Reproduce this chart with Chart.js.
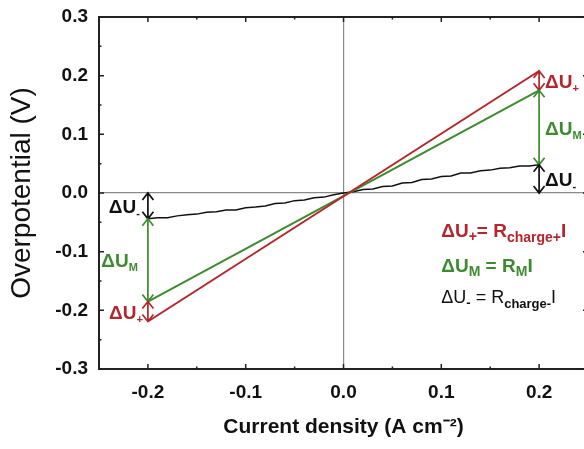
<!DOCTYPE html>
<html>
<head>
<meta charset="utf-8">
<script src="https://cdn.jsdelivr.net/npm/chart.js@4.4.0/dist/chart.umd.min.js"></script>
<style>
  html, body { margin: 0; padding: 0; background: #fff; overflow: hidden; }
  #wrap { width: 600px; height: 449px; }
</style>
</head>
<body>
<div id="wrap"><canvas id="chart" width="600" height="449"></canvas></div>
<script>
// axis ticks
const xTicks = [-0.2, -0.1, 0, 0.1, 0.2];
const xMinorTicks = [-0.25, -0.15, -0.05, 0.05, 0.15, 0.25];
const yTicks = [-0.3, -0.2, -0.1, 0, 0.1, 0.2, 0.3];
const yMinorTicks = [-0.25, -0.15, -0.05, 0.05, 0.15, 0.25];

// straight fits, end points at -0.2 and 0.2 A/cm2
const fitCurrent = [-0.2, 0.2];
const totalOverpotential = [-0.219, 0.208];    // red, dU+
const membraneOverpotential = [-0.185, 0.175]; // green, dU_M

// measured (noisy) black curve, dU-
const measuredCurrent = [
  -0.20, -0.19, -0.18, -0.17, -0.16, -0.15, -0.14, -0.13, -0.12, -0.11,
  -0.10, -0.09, -0.08, -0.07, -0.06, -0.05, -0.04, -0.03, -0.02, -0.01,
  0.00, 0.01, 0.02, 0.03, 0.04, 0.05, 0.06, 0.07, 0.08, 0.09,
  0.10, 0.11, 0.12, 0.13, 0.14, 0.15, 0.16, 0.17, 0.18, 0.19, 0.20
];
const measuredOverpotential = [
  -0.044, -0.042, -0.042, -0.039, -0.037, -0.036, -0.033, -0.032, -0.029, -0.029,
  -0.025, -0.024, -0.022, -0.018, -0.017, -0.013, -0.012, -0.008, -0.007, -0.003,
  0.000, 0.002, 0.006, 0.007, 0.011, 0.012, 0.017, 0.018, 0.023, 0.024,
  0.028, 0.029, 0.034, 0.034, 0.038, 0.039, 0.042, 0.043, 0.046, 0.046, 0.048
];

const RED = '#b3262b';
const GREEN = '#3d8b2f';
const BLACK = '#111111';
const FONT = '"Liberation Sans", Arial, sans-serif';

Chart.defaults.font.family = FONT;
Chart.defaults.color = '#111';

function pts(xs, ys) {
  return xs.map((v, i) => ({ x: v, y: ys[i] }));
}

function drawRich(ctx, x, y, parts, align) {
  let total = 0;
  parts.forEach(p => { ctx.font = p[1]; total += ctx.measureText(p[0]).width; });
  let cx = align === 'right' ? x - total : x;
  parts.forEach(p => {
    ctx.font = p[1];
    ctx.fillText(p[0], cx, y + (p[2] || 0));
    cx += ctx.measureText(p[0]).width;
  });
}

function arrow(ctx, px, p1, p2, color) {
  const h = 7, w = 5.5;
  const dir = p2 > p1 ? 1 : -1;
  ctx.strokeStyle = color;
  ctx.lineWidth = 1.7;
  ctx.beginPath();
  ctx.moveTo(px, p1); ctx.lineTo(px, p2);
  ctx.moveTo(px - w, p2 - dir * h); ctx.lineTo(px, p2); ctx.lineTo(px + w, p2 - dir * h);
  ctx.moveTo(px - w, p1 + dir * h); ctx.lineTo(px, p1); ctx.lineTo(px + w, p1 + dir * h);
  ctx.stroke();
}

const frame = {
  id: 'frame',
  afterDatasetsDraw(chart) {
    const { ctx, chartArea: a, scales: { x, y } } = chart;
    ctx.save();
    ctx.strokeStyle = '#222';
    ctx.lineWidth = 2;
    ctx.strokeRect(a.left, a.top, a.right - a.left, a.bottom - a.top);

    // inward tick marks
    ctx.lineWidth = 1.5;
    ctx.beginPath();
    const tx = (v, len) => {
      const p = x.getPixelForValue(v);
      ctx.moveTo(p, a.bottom); ctx.lineTo(p, a.bottom - len);
      ctx.moveTo(p, a.top); ctx.lineTo(p, a.top + len);
    };
    const ty = (v, len) => {
      const p = y.getPixelForValue(v);
      ctx.moveTo(a.left, p); ctx.lineTo(a.left + len, p);
      ctx.moveTo(a.right, p); ctx.lineTo(a.right - len, p);
    };
    xTicks.forEach(v => tx(v, 5));
    xMinorTicks.forEach(v => tx(v, 2.5));
    yTicks.forEach(v => ty(v, 5));
    yMinorTicks.forEach(v => ty(v, 2.5));
    ctx.stroke();

    // double arrows between the curves at the end points
    const xl = x.getPixelForValue(fitCurrent[0]);
    const xr = x.getPixelForValue(fitCurrent[1]);
    const b0 = measuredOverpotential[0];
    const b1 = measuredOverpotential[measuredOverpotential.length - 1];
    const Y = v => y.getPixelForValue(v);

    arrow(ctx, xl, Y(0), Y(b0), BLACK);
    arrow(ctx, xl, Y(b0), Y(membraneOverpotential[0]), GREEN);
    arrow(ctx, xl, Y(membraneOverpotential[0]), Y(totalOverpotential[0]), RED);
    arrow(ctx, xr, Y(totalOverpotential[1]), Y(membraneOverpotential[1]), RED);
    arrow(ctx, xr, Y(membraneOverpotential[1]), Y(b1), GREEN);
    arrow(ctx, xr, Y(b1), Y(0), BLACK);

    // arrow labels
    const big = 'bold 19px ' + FONT, sub = 'bold 11px ' + FONT;
    const mid = (u, v) => (Y(u) + Y(v)) / 2 + 7;
    ctx.textBaseline = 'alphabetic';
    ctx.fillStyle = BLACK;
    drawRich(ctx, xl - 8, mid(0, b0), [['\u0394U', big], ['-', sub, 4]], 'right');
    ctx.fillStyle = GREEN;
    drawRich(ctx, xl - 10, mid(b0, membraneOverpotential[0]), [['\u0394U', big], ['M', sub, 4]], 'right');
    ctx.fillStyle = RED;
    drawRich(ctx, xl - 5, mid(membraneOverpotential[0], totalOverpotential[0]), [['\u0394U', big], ['+', sub, 4]], 'right');
    ctx.fillStyle = RED;
    drawRich(ctx, xr + 6, mid(totalOverpotential[1], membraneOverpotential[1]), [['\u0394U', big], ['+', sub, 4]]);
    ctx.fillStyle = GREEN;
    drawRich(ctx, xr + 6, mid(membraneOverpotential[1], b1), [['\u0394U', big], ['M', sub, 4]]);
    ctx.fillStyle = BLACK;
    drawRich(ctx, xr + 6, mid(b1, 0), [['\u0394U', big], ['-', sub, 4]]);

    // equations
    const lx = x.getPixelForValue(0.1);
    const eq = 'bold 19px ' + FONT, eqSub = 'bold 14px ' + FONT;
    ctx.fillStyle = RED;
    drawRich(ctx, lx, Y(-0.063) + 7, [['\u0394U', eq], ['+', eqSub, 4], ['= R', eq], ['charge+', eqSub, 5], ['I', eq]]);
    ctx.fillStyle = GREEN;
    drawRich(ctx, lx, Y(-0.122) + 7, [['\u0394U', eq], ['M', eqSub, 4], [' = R', eq], ['M', eqSub, 4], ['I', eq]]);
    ctx.fillStyle = BLACK;
    const eqN = '18px ' + FONT, eqNSub = 'bold 13px ' + FONT;
    drawRich(ctx, lx, Y(-0.176) + 7, [['\u0394U', eqN], ['-', eqNSub, 4], [' = R', eqN], ['charge-', eqNSub, 5], ['I', eqN]]);
    ctx.restore();
  }
};

const zeroLine = c => (Math.abs(c.tick.value) < 1e-9 ? '#8a8a8a' : 'rgba(0,0,0,0)');

new Chart(document.getElementById('chart'), {
  type: 'line',
  data: {
    datasets: [
      { data: pts(fitCurrent, totalOverpotential), borderColor: RED, borderWidth: 2 },
      { data: pts(fitCurrent, membraneOverpotential), borderColor: GREEN, borderWidth: 2 },
      { data: pts(measuredCurrent, measuredOverpotential), borderColor: BLACK, borderWidth: 1.5 }
    ]
  },
  options: {
    responsive: false,
    animation: false,
    parsing: false,
    elements: { point: { radius: 0 }, line: { tension: 0 } },
    layout: { padding: { left: 0, right: 12, top: 17, bottom: 0 } },
    plugins: { legend: { display: false }, tooltip: { enabled: false } },
    scales: {
      x: {
        type: 'linear',
        min: -0.25,
        max: 0.25,
        afterBuildTicks: s => { s.ticks = xTicks.map(v => ({ value: v })); },
        afterFit: s => { s.height = 80; s.paddingLeft = 0; s.paddingRight = 0; },
        border: { display: false },
        grid: { drawTicks: false, color: zeroLine, lineWidth: 1.2 },
        ticks: {
          padding: 12,
          color: '#111',
          font: { size: 19, weight: 'bold' },
          callback: v => (Math.abs(v) < 1e-9 ? '0.0' : v.toFixed(1))
        },
        title: {
          display: true,
          text: 'Current density (A cm\u207B\u00B2)',
          color: '#111',
          font: { size: 21, weight: 'bold', lineHeight: 1.2 },
          padding: { top: 0, bottom: 9 }
        }
      },
      y: {
        type: 'linear',
        min: -0.3,
        max: 0.3,
        afterBuildTicks: s => { s.ticks = yTicks.map(v => ({ value: v })); },
        afterFit: s => { s.width = 99; s.paddingTop = 0; s.paddingBottom = 0; },
        border: { display: false },
        grid: { drawTicks: false, color: zeroLine, lineWidth: 1.2 },
        ticks: {
          padding: 11,
          color: '#111',
          font: { size: 19, weight: 'bold' },
          callback: v => (Math.abs(v) < 1e-9 ? '0.0' : v.toFixed(1))
        },
        title: {
          display: true,
          text: 'Overpotential (V)',
          color: '#111',
          font: { size: 28, weight: 'normal', lineHeight: 1.2 },
          padding: { top: 5, bottom: 0 }
        }
      }
    }
  },
  plugins: [frame]
});
</script>
</body>
</html>
